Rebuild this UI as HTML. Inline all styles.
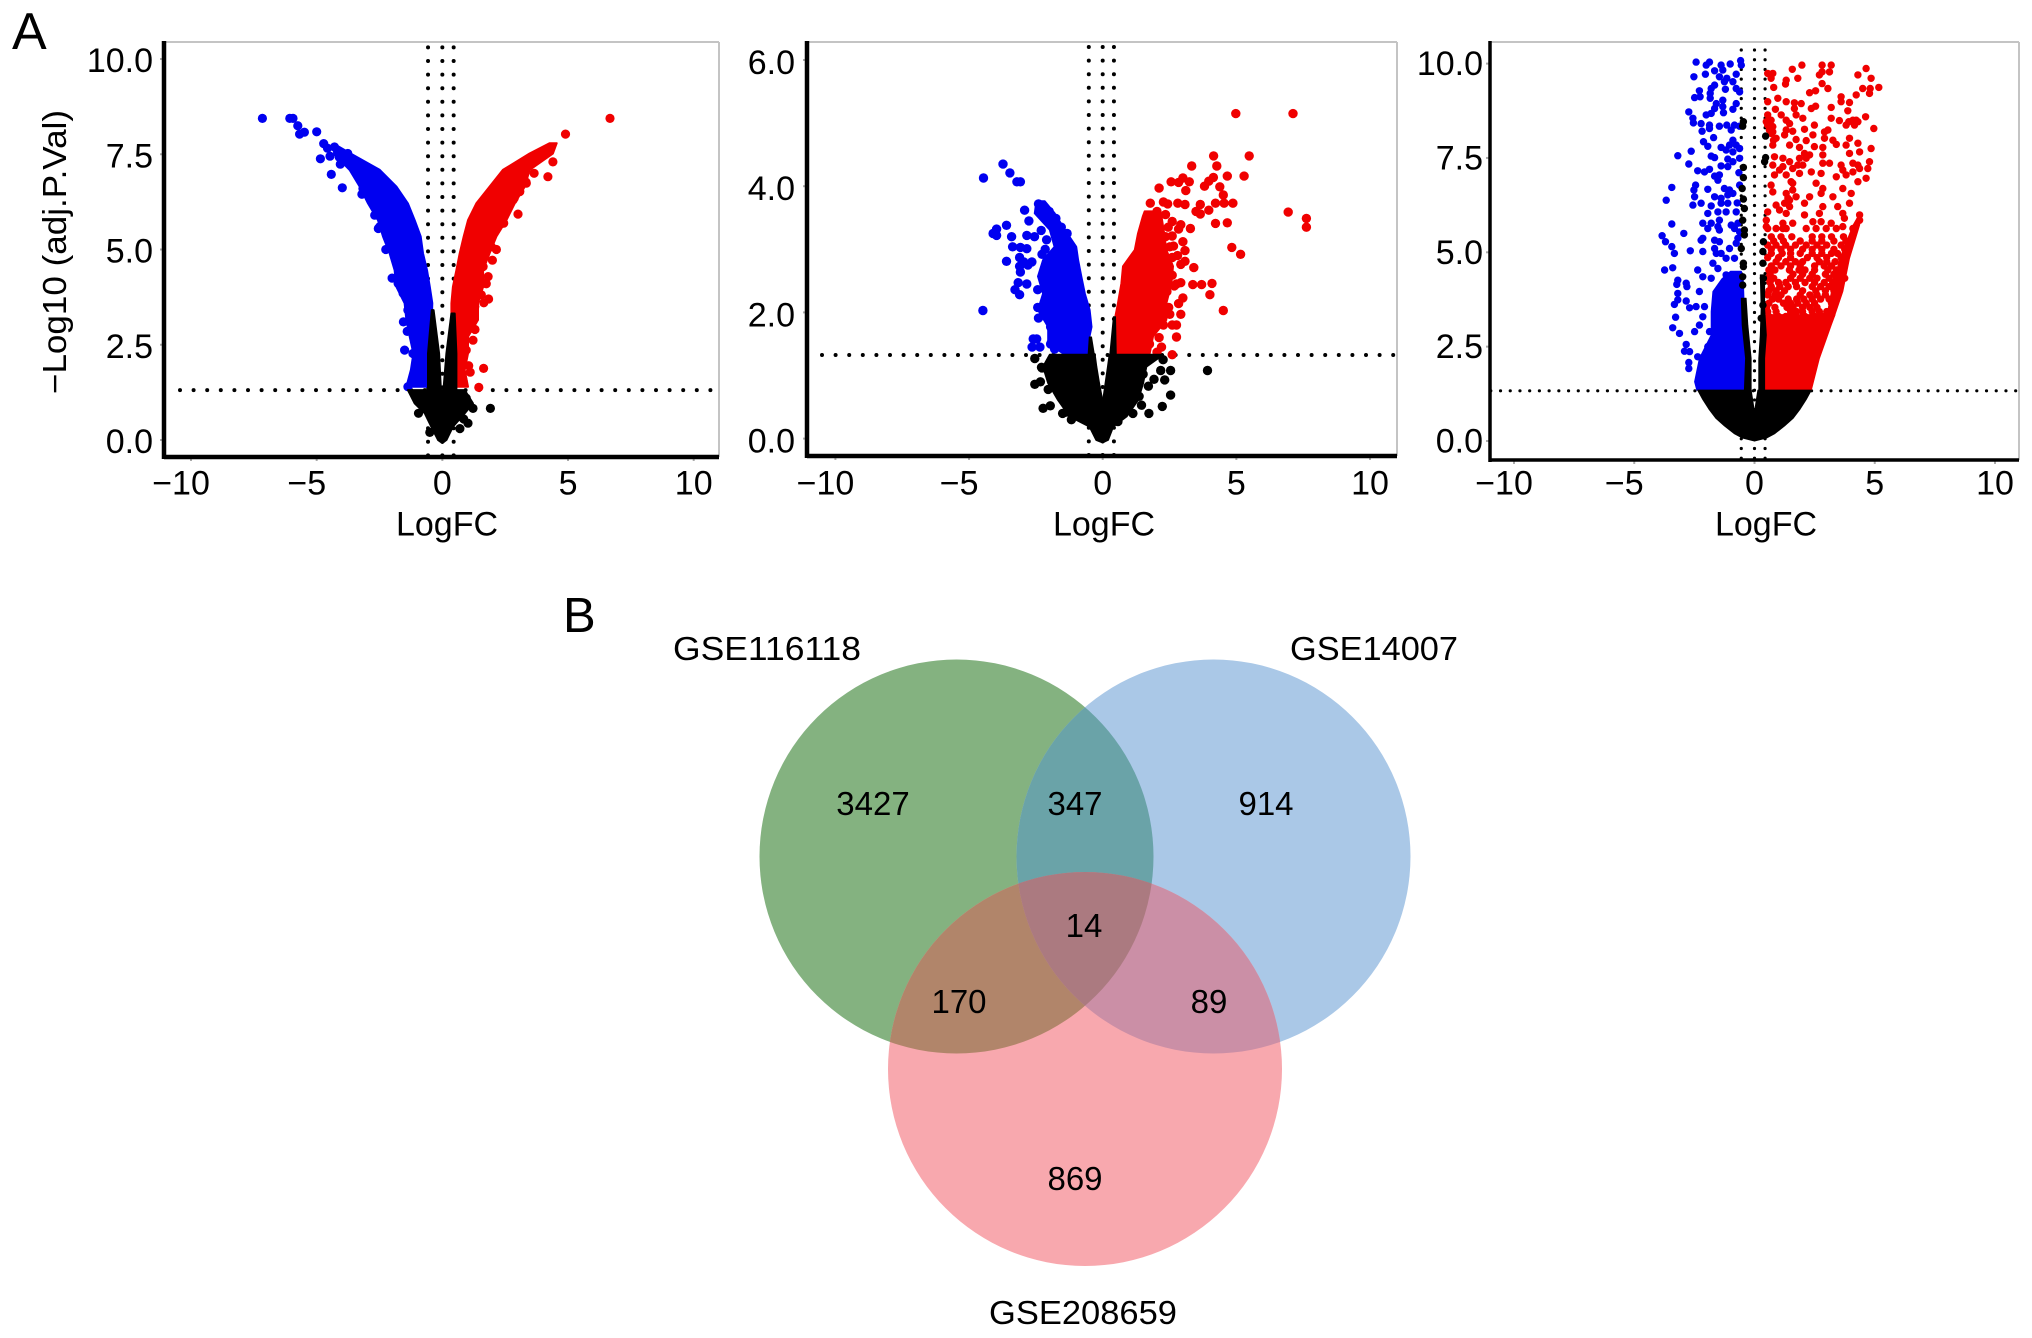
<!DOCTYPE html>
<html lang="en">
<head>
<meta charset="utf-8">
<title>Volcano plots and Venn diagram</title>
<style>
html,body{margin:0;padding:0;background:#fff;}
svg{display:block;font-family:"Liberation Sans",Arial,sans-serif;}
</style>
</head>
<body>
<svg id="fig" width="2032" height="1338" viewBox="0 0 2032 1338" xmlns="http://www.w3.org/2000/svg">
  <rect width="2032" height="1338" fill="#fff"/>
  <text x="12" y="49" font-size="52">A</text>
  <text x="563" y="632" font-size="49">B</text>
  <text transform="translate(66,252) rotate(-90)" text-anchor="middle" font-size="33" textLength="284" lengthAdjust="spacingAndGlyphs">−Log10 (adj.P.Val)</text>
  <g id="panels"></g>

  <defs>
    <clipPath id="clip-green"><circle cx="956.5" cy="856.5" r="197"/></clipPath>
    <clipPath id="clip-blue"><circle cx="1213.5" cy="856.5" r="197"/></clipPath>
    <clipPath id="clip-pink"><circle cx="1085" cy="1069" r="197"/></clipPath>
  </defs>
  <g>
    <circle cx="956.5" cy="856.5" r="197" fill="#84b280"/>
    <circle cx="1213.5" cy="856.5" r="197" fill="#aac8e7"/>
    <circle cx="1085" cy="1069" r="197" fill="#f8a8ae"/>
    <g clip-path="url(#clip-green)"><circle cx="1213.5" cy="856.5" r="197" fill="#6aa3a8"/></g>
    <g clip-path="url(#clip-green)"><circle cx="1085" cy="1069" r="197" fill="#b1856a"/></g>
    <g clip-path="url(#clip-blue)"><circle cx="1085" cy="1069" r="197" fill="#cb8fa6"/></g>
    <g clip-path="url(#clip-green)"><g clip-path="url(#clip-blue)"><circle cx="1085" cy="1069" r="197" fill="#ab7a80"/></g></g>
    <g font-size="33" text-anchor="middle" fill="#000">
      <text x="873" y="815">3427</text>
      <text x="1075" y="815">347</text>
      <text x="1266" y="815">914</text>
      <text x="1084" y="937">14</text>
      <text x="959" y="1013">170</text>
      <text x="1209" y="1013">89</text>
      <text x="1075" y="1190">869</text>
    </g>
    <g font-size="33">
      <text x="673" y="660" textLength="188" lengthAdjust="spacingAndGlyphs">GSE116118</text>
      <text x="1290" y="660" textLength="168" lengthAdjust="spacingAndGlyphs">GSE14007</text>
      <text x="989" y="1324" textLength="188" lengthAdjust="spacingAndGlyphs">GSE208659</text>
    </g>
  </g>
</svg>

<script>
/* ---------- shared tick labels ---------- */
const xTicks = [-10, -5, 0, 5, 10];
const yTicksWide = [0, 2.5, 5, 7.5, 10];
const yTicksNarrow = [0, 2, 4, 6];

/* ---------- panel 1 (GSE116118) ---------- */
const p1BlueY = [1.4, 1.84, 2.27, 2.71, 3.15, 3.59, 4.02, 4.46, 4.9, 5.34, 5.77, 6.21, 6.65, 7.09, 7.5, 7.75];
const p1BlueOuter = [-1.43, -1.25, -1.15, -1.3, -1.43, -1.5, -1.83, -1.9, -2.1, -2.36, -2.56, -2.96, -3.29, -3.69, -4.3, -4.35];
const p1BlueInner = [-0.45, -0.45, -0.42, -0.42, -0.42, -0.4, -0.5, -0.61, -0.77, -0.86, -1.1, -1.37, -1.83, -2.49, -3.6, -4.25];
const p1RedY = [1.4, 1.84, 2.27, 2.71, 3.15, 3.59, 4.02, 4.46, 4.9, 5.34, 5.77, 6.21, 6.65, 7.09, 7.52, 7.79];
const p1RedOuter = [1.02, 0.89, 1.02, 1.02, 1.42, 1.42, 1.62, 1.62, 1.88, 2.15, 2.55, 2.88, 3.28, 3.47, 4.4, 4.55];
const p1RedInner = [0.49, 0.42, 0.36, 0.36, 0.36, 0.36, 0.42, 0.56, 0.69, 0.85, 1.02, 1.35, 1.88, 2.41, 3.47, 4.27];
const p1BlobY = [-0.08, 0, 0.35, 0.7, 0.96, 1.31];
const p1BlobLeft = [0, -0.17, -0.44, -0.7, -1.1, -1.37];
const p1BlobRight = [0, 0.16, 0.42, 0.89, 1.22, 0.89];
const p1SpikeLeftY = [1.2, 2.27, 3.41];
const p1SpikeLeftA = [-0.57, -0.57, -0.42];
const p1SpikeLeftB = [-0.05, -0.13, -0.35];
const p1SpikeRightY = [1.2, 2.27, 3.32];
const p1SpikeRightA = [0.03, 0.16, 0.36];
const p1SpikeRightB = [0.56, 0.56, 0.49];
const p1BluePoints = [[-7.16,8.44],[-6.07,8.44],[-5.94,8.44],[-5.75,8.25],[-5.68,8.03],[-5.49,8.08],[-5,8.09],[-4.72,7.78],[-4.57,7.66],[-4.29,7.69],[-4.85,7.38],[-4.42,6.97],[-3.98,6.62],[-4.47,7.45],[-4.1,7.42],[-3.76,7.52],[-4.06,7.24],[-2.69,5.9],[-3.16,6.6],[-1.5,2.36],[-1.17,2.27],[-1.09,1.61],[-1.37,1.4],[-3.4,7.0],[-3.2,6.45],[-2.55,5.55],[-2.25,5.0],[-2.0,4.25],[-1.55,3.1],[-1.4,2.85],[-2.49,5.6],[-2.03,5.07],[-1.76,4.55],[-1.76,4.11],[-1.56,3.85],[-1.37,3.41],[-1.23,2.84],[-0.84,1.66],[-2.89,6.34],[-3.29,6.91],[-1.0,2.0],[-1.05,1.85]];
const p1RedPoints = [[6.67,8.44],[4.9,8.03],[4.2,6.91],[3.01,5.93],[1.99,4.72],[1.82,4.29],[1.84,3.7],[1.22,2.62],[1.64,1.88],[1.11,1.78],[1.45,1.38],[4.4,7.3],[2.44,5.69],[2.86,6.35],[3.33,6.77],[3.65,7.0],[2.15,5.0],[1.75,4.1],[1.65,3.6],[1.3,2.9],[1.05,1.95],[2.41,5.69],[2.81,6.3],[3.08,6.52],[3.34,6.74],[1.95,5.07],[1.62,4.55],[1.62,4.11],[1.55,3.81],[1.29,3.5],[1.02,3.06],[0.95,2.36],[0.82,1.57]];
const p1BlackPoints = [[1.91,0.83],[1.02,0.44],[1.22,0.83],[0.7,0.3],[0.85,0.55],[-0.5,0.2],[0.95,1.1],[-0.95,0.7]];

/* ---------- panel 2 (GSE14007) ---------- */
const p2BlueY = [1.35, 1.51, 1.77, 2.04, 2.3, 2.57, 2.83, 3.04, 3.31, 3.57, 3.76];
const p2BlueOuter = [-1.48, -2.04, -2.04, -2.42, -2.23, -2.42, -2.23, -1.8, -1.98, -2.54, -2.48];
const p2BlueInner = [-0.55, -0.55, -0.42, -0.49, -0.67, -0.8, -0.92, -0.99, -1.42, -1.8, -2.17];
const p2RedY = [1.35, 1.62, 1.88, 2.14, 2.46, 2.73, 2.99, 3.25, 3.52, 3.6];
const p2RedInner = [0.45, 0.39, 0.45, 0.57, 0.7, 0.76, 1.2, 1.32, 1.5, 1.57];
const p2RedOuter = [1.76, 1.88, 2.38, 2.38, 2.57, 2.63, 2.38, 2.3, 2.2, 2.1];
const p2BlobY = [-0.06, -0.02, 0.19, 0.35, 0.61, 0.88, 1.14, 1.33];
const p2BlobLeft = [0, -0.24, -0.49, -1.23, -1.67, -2.04, -2.23, -1.98];
const p2BlobRight = [0, 0.2, 0.39, 0.89, 1.32, 1.51, 1.63, 2.26];
const p2NotchLeft = [0, 0, 0, 0, -0.02, -0.14, -0.24, -0.3];
const p2NotchRight = [0, 0, 0, 0, 0.02, 0.11, 0.2, 0.26];
const p2SpikeLeftY = [1.3, 1.61];
const p2SpikeLeftA = [-0.55, -0.5];
const p2SpikeLeftB = [-0.3, -0.42];
const p2SpikeRightY = [1.3, 1.93];
const p2SpikeRightA = [0.26, 0.4];
const p2SpikeRightB = [0.51, 0.48];
const p2BluePoints = [[-3.73,4.35],[-3.47,4.21],[-4.46,4.13],[-3.21,4.07],[-3.08,4.07],[-4.48,2.03],[-3.6,3.38],[-3.97,3.32],[-4.1,3.25],[-3.97,3.22],[-3.41,3.2],[-3.37,3.04],[-3.08,3.03],[-2.84,3.01],[-3.6,2.81],[-3.11,2.87],[-3.11,2.73],[-3.08,2.64],[-3.16,2.47],[-3.28,2.36],[-3.11,2.28],[-2.84,2.45],[-2.43,2.36],[-2.92,3.62],[-2.76,3.45],[-2.84,3.22],[-2.6,1.58],[-2.47,1.58],[-2.64,1.45],[-2.35,1.45],[-2.4,3.72],[-2.19,3.67],[-1.75,3.49],[-1.33,3.25],[-2.27,2.92],[-2.43,2.08],[-2.4,1.91],[-1.95,1.77],[-2.95,2.8],[-2.8,2.75],[-2.65,2.8],[-2.55,3.2],[-2.0,3.6],[-1.9,3.4],[-1.55,3.35],[-1.15,3.0],[-1.1,2.9],[-1.95,1.5],[-1.8,1.42],[-2.3,3.3],[-2.1,3.15],[-2.15,3.0]];
const p2RedPoints = [[4.98,5.15],[7.12,5.15],[4.15,4.48],[5.48,4.48],[3.33,4.32],[4.27,4.32],[4.66,4.16],[5.29,4.16],[3,4.13],[2.56,4.07],[2.84,4.06],[3.24,4.07],[3.11,3.93],[4.14,4.14],[3.97,4.08],[3.81,4],[4.38,3.99],[2.11,3.97],[4.51,3.86],[4.22,3.73],[4.54,3.73],[4.87,3.73],[1.78,3.73],[2.27,3.75],[2.43,3.72],[2.81,3.73],[3.08,3.71],[3.65,3.71],[3.49,3.6],[3.65,3.56],[3.97,3.62],[6.94,3.59],[7.62,3.49],[7.62,3.35],[4.22,3.41],[4.66,3.42],[3.28,3.33],[2.92,3.39],[4.83,3.03],[5.16,2.92],[3.41,2.71],[3.08,2.98],[3,3.12],[3.08,2.81],[3.37,2.44],[3.7,2.44],[4.09,2.46],[4.01,2.28],[4.51,2.03],[3,2.23],[2.92,1.97],[2.76,1.61],[2.6,1.33],[2.84,2.14],[2.76,2.45],[2.51,1.97],[2.35,1.97],[2.27,1.8],[2.6,1.8],[2.76,1.8],[2.11,1.6],[2.03,1.37],[2.92,2.47],[2.68,2.42],[2.6,2.59],[2.92,2.76],[2.6,2.87],[2.51,3.04],[2.6,3.21],[2.84,3.32],[2.6,3.44],[2.35,3.55],[2.03,3.6],[2.27,2.08],[2.47,2.08],[2.4,2.33],[2.45,2.75],[2.35,3.2],[2.45,3.35],[1.75,1.5],[2.2,1.45],[2.05,3.4],[2.65,3.05],[2.8,2.9]];
const p2BlackPoints = [[-2.54,1.27],[-2.29,1.13],[-2.27,1.12],[-2.54,0.86],[-2.33,0.9],[-2.04,0.78],[-2.23,0.48],[-1.96,0.52],[-1.17,0.3],[3.92,1.08],[2.54,1.08],[2.17,1.08],[2.32,0.93],[1.92,0.94],[2.54,0.69],[2.23,0.51],[1.73,0.4],[1.45,0.53],[1.36,0.67],[1.71,0.83],[1.51,1.02],[2.26,1.25],[0.57,0.27],[1.13,0.4],[-1.5,0.4],[-1.35,0.42]];

/* ---------- panel 3 (GSE208659) ---------- */
const p3BlobY = [0, 0.08, 0.2, 0.4, 0.6, 0.85, 1.1, 1.35];
const p3BlobLeft = [0, -0.5, -0.85, -1.25, -1.6, -1.9, -2.15, -2.36];
const p3BlobRight = [0, 0.5, 0.85, 1.25, 1.6, 1.9, 2.15, 2.36];
const p3BlobNotchLeft = [0, 0, 0, 0, 0, -0.02, -0.08, -0.14];
const p3BlobNotchRight = [0, 0, 0, 0, 0, 0.02, 0.08, 0.14];
const p3BlueY = [1.35, 1.57, 2.19, 2.81, 3.43, 3.96, 4.3, 4.5];
const p3BlueOuter = [-2.4, -2.49, -2.29, -1.8, -1.8, -1.73, -1.35, -1.0];
const p3BlueInner = [-0.35, -0.35, -0.37, -0.42, -0.42, -0.45, -0.47, -0.55];
const p3RedY = [1.35, 2.19, 3.07, 3.35];
const p3RedInner = [0.42, 0.42, 0.42, 0.5];
const p3RedOuter = [2.36, 2.7, 3.19, 3.35];
const p3RedEdgeY = [3.3, 3.96, 4.84, 5.72, 6.0];
const p3RedEdgeOuter = [3.32, 3.67, 3.95, 4.37, 4.44];
const p3RedEdgeInner = [3.0, 3.2, 3.55, 4.1, 4.35];
const p3BlackLeftY = [1.35, 2.19, 3.07, 3.78];
const p3BlackLeftA = [-0.42, -0.37, -0.51, -0.55];
const p3BlackLeftB = [-0.14, -0.14, -0.28, -0.35];
const p3BlackRightY = [1.35, 2.19, 2.81, 3.51, 4.4];
const p3BlackRightA = [0.18, 0.18, 0.24, 0.28, 0.24];
const p3BlackRightB = [0.42, 0.42, 0.49, 0.42, 0.42];
const p3BluePoints = [[-2.43,10.04],[-1.87,10.04],[-2.01,9.96],[-1.39,9.96],[-1.01,9.99],[-0.58,10.08],[-0.55,9.96],[-2.52,9.65],[-2.04,9.72],[-1.66,9.81],[-1.32,9.83],[-1.46,9.65],[-0.76,9.72],[-1.15,9.61],[-1.25,9.52],[-0.9,9.52],[-1.66,9.43],[-2.29,9.28],[-1.8,9.34],[-1.84,9.21],[-1.21,9.32],[-0.76,9.34],[-0.62,9.25],[-2.49,9.1],[-2.26,9.12],[-1.84,9.08],[-1.32,9.03],[-1.59,8.94],[-0.76,8.94],[-1.32,8.86],[-1.66,8.81],[-0.9,8.79],[-2.73,8.72],[-2.01,8.64],[-1.8,8.68],[-1.29,8.7],[-2.56,8.55],[-2.54,8.43],[-2.22,8.41],[-1.87,8.37],[-1.87,8.28],[-1.46,8.34],[-1.15,8.37],[-0.83,8.37],[-0.97,8.24],[-0.62,8.34],[-2.18,8.21],[-2.12,7.93],[-1.7,8.04],[-1.94,7.81],[-0.9,7.97],[-1.04,7.84],[-0.76,7.84],[-1.39,7.78],[-1.18,7.71],[-0.9,7.66],[-0.62,7.75],[-2.63,7.68],[-3.19,7.56],[-1.8,7.55],[-1.66,7.51],[-1.11,7.47],[-0.62,7.49],[-2.73,7.34],[-1.39,7.29],[-0.9,7.4],[-1.87,7.2],[-2.36,7.16],[-2.08,7.13],[-1.66,7.02],[-1.46,7.05],[-0.65,7.11],[-1.11,7.27],[-1.52,6.91],[-3.44,6.72],[-2.45,6.78],[-2.52,6.65],[-1.94,6.67],[-1.25,6.69],[-1.04,6.65],[-0.62,6.78],[-2.49,6.47],[-3.67,6.38],[-1.66,6.47],[-1.39,6.43],[-1.11,6.52],[-0.9,6.56],[-2.56,6.25],[-2.22,6.3],[-1.8,6.23],[-1.39,6.3],[-1.11,6.3],[-0.72,6.31],[-1.94,6.03],[-1.52,6.07],[-1.18,6.07],[-0.76,6.07],[-3.44,5.75],[-2.15,5.77],[-1.8,5.77],[-1.46,5.85],[-0.97,5.72],[-0.69,5.77],[-1.94,5.63],[-1.52,5.68],[-2.94,5.5],[-3.84,5.44],[-3.7,5.28],[-3.44,5.15],[-3.33,4.97],[-2.67,5.04],[-3.74,4.53],[-3.4,4.59],[-3.19,4.26],[-3.23,4.15],[-2.84,4.18],[-2.81,4.09],[-3.19,3.91],[-3.19,3.74],[-3.33,3.62],[-2.84,3.71],[-2.7,3.53],[-2.43,3.56],[-3.28,3.28],[-3.4,3.0],[-3.12,2.85],[-2.84,2.56],[-2.91,2.38],[-2.7,2.37],[-2.73,2.08],[-2.73,1.92],[-2.36,4.53],[-2.15,4.35],[-2.29,3.96],[-2.15,5.37],[-2.22,5.32],[-1.46,5.59],[-1.46,5.28],[-1.04,5.1],[-0.83,5.63],[-0.69,5.37],[-2.15,5.02],[-1.59,4.97],[-1.18,4.84],[-0.83,4.84],[-1.73,4.71],[-1.52,4.57],[-1.18,4.4],[-1.8,4.31],[-2.08,3.56],[-2.15,3.29],[-2.29,3.07],[-2.49,2.9],[-1.87,2.9],[-1.94,2.5],[-2.36,2.23],[-2.15,2.1],[-1.66,5.32],[-1.66,5.1],[-1.39,4.97],[-0.76,5.24],[-0.62,5.54]];
const p3RedPoints = [[1.97,9.96],[2.81,9.96],[3.19,9.96],[2.81,9.78],[3.12,9.78],[2.7,9.7],[4.64,9.87],[4.3,9.7],[4.85,9.61],[1.57,9.85],[1.8,9.61],[1.32,9.56],[0.55,9.74],[0.76,9.74],[0.69,9.61],[0.8,9.37],[1.29,9.46],[2.81,9.47],[3.05,9.34],[2.29,9.23],[2.54,9.28],[3.6,9.12],[4.5,9.34],[4.81,9.34],[5.17,9.37],[4.78,9.21],[4.23,9.17],[0.55,8.99],[0.97,9.08],[1.32,8.99],[1.66,8.96],[1.94,8.94],[3.6,8.99],[3.95,8.97],[2.36,8.81],[2.54,8.87],[3.19,8.84],[0.87,8.79],[1.66,8.81],[3.88,8.75],[1.11,8.64],[0.55,8.64],[0.49,8.46],[1.32,8.5],[2.01,8.55],[1.73,8.64],[3.19,8.55],[3.53,8.49],[4.62,8.59],[3.92,8.46],[4.23,8.5],[4.16,8.37],[0.55,8.37],[0.76,8.33],[1.46,8.41],[2.49,8.37],[3.81,8.37],[4.96,8.28],[0.69,8.15],[1.32,8.24],[1.59,8.21],[2.08,8.26],[2.91,8.19],[2.43,8.11],[3.05,8.24],[0.79,7.97],[1.25,8.11],[1.73,7.99],[2.15,7.96],[2.91,8.02],[3.26,7.97],[3.95,8.02],[4.3,7.89],[0.76,7.84],[1.46,7.84],[1.87,7.78],[2.49,7.8],[2.84,7.78],[3.4,7.86],[3.81,7.84],[4.85,7.75],[2.84,7.58],[4.37,7.66],[0.83,7.53],[1.18,7.49],[1.46,7.4],[2.29,7.58],[2.15,7.49],[1.87,7.49],[3.95,7.62],[4.78,7.4],[3.6,7.31],[4.09,7.36],[4.3,7.31],[2.84,7.36],[3.12,7.36],[4.71,7.22],[0.76,7.31],[1.18,7.27],[1.59,7.22],[2.01,7.31],[2.36,7.13],[2.77,7.09],[3.67,7.18],[3.81,7.05],[4.09,7.13],[4.37,7.22],[3.4,7.0],[4.64,6.96],[0.83,7.05],[1.32,7.05],[1.87,7.09],[4.3,6.87],[0.69,6.78],[1.52,6.87],[1.59,6.65],[2.56,6.83],[2.84,6.69],[3.67,6.69],[4.02,6.56],[0.76,6.6],[1.32,6.56],[2.29,6.47],[2.77,6.56],[3.26,6.47],[0.9,6.25],[1.46,6.38],[2.08,6.3],[2.84,6.21],[3.46,6.21],[3.95,6.3],[0.55,6.07],[1.04,6.12],[1.46,6.21],[2.7,6.03],[3.67,6.03],[4.37,5.99],[0.49,5.85],[1.18,5.77],[2.08,5.99],[2.43,5.81],[2.77,5.81],[3.19,5.77],[3.74,5.9],[4.37,5.85],[0.49,5.68],[1.59,5.77],[3.67,5.68],[4.09,5.63],[2.15,5.63],[1.18,5.63],[1.59,6.83],[1.39,6.43],[1.73,6.47],[1.25,6.3],[1.32,6.03],[0.76,8.19],[0.69,8.5],[0.9,8.02],[0.62,8.24],[4.09,8.5],[4.3,8.46],[1.04,7.18],[1.8,7.31],[2.08,7.62]];
/* rows for the crowded middle of the red cloud: first value is -log10 p, the rest are logFC values */
const p3RedDenseRows = [
[5.63,0.55,0.9,1.32,2.56,2.98,3.4],[5.41,0.7,1.1,1.55,2.4,2.8,3.2,3.7],[5.3,0.8,1.2,1.9,2.4,2.8,3.3,3.8],
[5.19,0.55,0.9,1.3,1.7,2.15,2.6,3.0,3.6,3.95],[5.08,0.7,1.1,1.5,2.0,2.4,2.8,3.3,3.75],[4.97,0.7,1.15,1.5,1.9,2.4,2.8,3.2,3.45,3.8],
[4.86,0.55,1.0,1.5,2.2,2.6,3.0,3.6],[4.75,0.9,1.3,1.7,2.0,2.7,3.0,3.35,3.75],[4.64,0.7,1.1,1.5,1.9,2.5,2.9,3.2,3.6],
[4.53,0.6,0.85,1.45,1.85,2.1,2.5,3.05,3.4,3.7],[4.42,0.65,1.6,2.0,2.4,2.95,3.3,3.6],[4.31,0.55,0.8,1.5,1.9,2.3,2.6,3.1,3.4,3.75],
[4.2,0.65,1.0,1.3,1.7,2.1,2.5,2.9,3.25,3.6],[4.09,0.7,1.05,1.4,1.75,2.4,2.75,3.1,3.45],[3.98,0.6,0.9,1.25,2.0,2.55,2.95,3.3],
[3.87,0.55,0.85,1.1,1.9,2.3,2.6,2.95],[3.76,0.75,1.0,1.4,1.75,2.05,2.4,2.75,3.1],[3.65,0.6,1.2,1.5,1.8,2.15,2.5,3.2],
[3.54,0.5,0.85,1.35,1.6,2.0,2.3,2.6],[3.43,0.55,0.9,1.5,1.75,2.0,2.4,2.7,3.0],[3.3,0.6,1.0,1.3,1.7,2.1,2.5,2.85]];
const p3BlackPoints = [[-0.46,8.46],[-0.49,8.34],[0.46,8.08],[0.46,7.51],[0.42,7.4],[-0.46,7.25],[-0.46,6.98],[-0.51,6.69],[-0.46,6.41],[-0.42,6.16],[-0.49,5.85],[-0.42,5.59],[-0.42,5.46],[-0.55,5.1],[-0.46,4.71],[-0.46,4.62],[-0.49,4.35],[-0.49,4.13],[0.37,5.28],[0.35,5.02],[0.35,4.71],[0.37,4.31],[0.35,3.6],[0.28,3.25]];

/* ---------- layout of each panel, in figure pixels ---------- */
const panelLayouts = [
  {id:'gse116118', left:164, right:719, top:42, bottom:457, x0:[-10,191], x1:[10,693.7], y0:[0,440], y1:[10,59], yTicks:yTicksWide, r:4.6, dot:4, gap:13.6, axisW:4.5, labelRight:153, labelDy:13, titleX:447, xLabelY:494.5, titleY:535.5, digits:18.9, vlo:-0.57, vhi:0.45, hline:1.31, hStart:180, vStart:47.4},
  {id:'gse14007',  left:807, right:1397, top:42, bottom:456, x0:[-10,835.4], x1:[10,1370], y0:[0,438.6], y1:[6,60], yTicks:yTicksNarrow, r:4.7, dot:4, gap:13.6, axisW:4.5, labelRight:795, labelDy:14, titleX:1104, xLabelY:494.5, titleY:535.5, digits:18.9, vlo:-0.52, vhi:0.42, hline:1.325, hStart:822, vStart:47},
  {id:'gse208659', left:1490, right:2019, top:42, bottom:460, x0:[-10,1514], x1:[10,1995], y0:[0,441], y1:[10,63.6], yTicks:yTicksWide, r:3.7, dot:3.2, gap:9.72, axisW:3.5, labelRight:1483, labelDy:11.5, titleX:1766, xLabelY:494.5, titleY:535.5, digits:18.9, vlo:-0.55, vhi:0.44, hline:1.33, hStart:1490.8, vStart:50}
];

const NS = 'http://www.w3.org/2000/svg';
const BLUE = '#0000f0', RED = '#f00000', BLACK = '#000';

function scale(a, b) {
  const k = (b[1] - a[1]) / (b[0] - a[0]);
  return v => a[1] + (v - a[0]) * k;
}
function make(tag, parent, attrs, name) {
  const el = document.createElementNS(NS, tag);
  for (const k in attrs) el.setAttribute(k, attrs[k]);
  
  
  parent.appendChild(el);
  return el;
}
function bandPath(g, sx, sy, ys, a, b, color, sw, name) {
  const pts = [];
  ys.forEach((y, i) => pts.push(sx(a[i]).toFixed(1) + ',' + sy(y).toFixed(1)));
  for (let i = ys.length - 1; i >= 0; i--) pts.push(sx(b[i]).toFixed(1) + ',' + sy(ys[i]).toFixed(1));
  make('polygon', g, {points: pts.join(' '), fill: color, stroke: color, 'stroke-width': sw, 'stroke-linejoin': 'round'}, name);
}
function dots(g, sx, sy, pairs, color, r, name) {
  pairs.forEach(p => make('circle', g, {cx: sx(p[0]).toFixed(1), cy: sy(p[1]).toFixed(1), r: r, fill: color}, name));
}
function rowDots(g, sx, sy, rows, color, r, name) {
  rows.forEach(row => row.slice(1).forEach(x => make('circle', g, {cx: sx(x).toFixed(1), cy: sy(row[0]).toFixed(1), r: r, fill: color}, name)));
}
function drawFrame(L, g, sx, sy) {
  make('line', g, {x1: L.left, y1: L.top, x2: L.right, y2: L.top, stroke: '#c4c4c4', 'stroke-width': 2}, 'panel-top-border');
  make('line', g, {x1: L.right, y1: L.top, x2: L.right, y2: L.bottom, stroke: '#c4c4c4', 'stroke-width': 2}, 'panel-right-border');
  xTicks.forEach(t => {
    const px = sx(t);
    make('line', g, {x1: px, y1: L.bottom, x2: px, y2: L.bottom + 4, stroke: '#aaa', 'stroke-width': 2}, 'x-tick');
    const label = make('text', g, {y: L.xLabelY, 'font-size': 34, 'text-anchor': t < 0 ? 'end' : 'middle', x: t < 0 ? px + String(Math.abs(t)).length * L.digits / 2 : px}, 'x-tick-label');
    label.textContent = (t < 0 ? '\u2212' : '') + Math.abs(t);
  });
  L.yTicks.forEach(t => {
    const py = sy(t);
    make('line', g, {x1: L.left - 4, y1: py, x2: L.left, y2: py, stroke: '#aaa', 'stroke-width': 2}, 'y-tick');
    const label = make('text', g, {x: L.labelRight, y: py + L.labelDy, 'font-size': 34, 'text-anchor': 'end'}, 'y-tick-label');
    label.textContent = t.toFixed(1);
  });
  const title = make('text', g, {x: L.titleX, y: L.titleY, 'font-size': 34, 'text-anchor': 'middle'}, 'x-axis-title');
  title.textContent = 'LogFC';
}
function drawRefs(L, g, sx, sy) {
  const dash = '0 ' + L.gap;
  [L.vlo, 0, L.vhi].forEach(v => make('line', g, {x1: sx(v), x2: sx(v), y1: L.vStart, y2: L.bottom, stroke: '#000', 'stroke-width': L.dot, 'stroke-dasharray': dash, 'stroke-linecap': 'round'}, 'logfc-threshold-line'));
  make('line', g, {x1: L.hStart, x2: L.right - 3, y1: sy(L.hline), y2: sy(L.hline), stroke: '#000', 'stroke-width': L.dot, 'stroke-dasharray': dash, 'stroke-linecap': 'round'}, 'pvalue-threshold-line');
}
function drawAxes(L, g) {
  make('line', g, {x1: L.left, y1: L.top - 1, x2: L.left, y2: L.bottom + 2, stroke: '#000', 'stroke-width': L.axisW}, 'y-axis-line');
  make('line', g, {x1: L.left, y1: L.bottom, x2: L.right, y2: L.bottom, stroke: '#000', 'stroke-width': L.axisW}, 'x-axis-line');
}

const root = document.getElementById('panels');
const painters = [
  function (L, g, sx, sy) {
    bandPath(g, sx, sy, p1BlueY, p1BlueOuter, p1BlueInner, BLUE, 2, 'down-regulated-cloud');
    bandPath(g, sx, sy, p1RedY, p1RedOuter, p1RedInner, RED, 2, 'up-regulated-cloud');
    dots(g, sx, sy, p1BluePoints, BLUE, L.r, 'down-regulated-gene');
    dots(g, sx, sy, p1RedPoints, RED, L.r, 'up-regulated-gene');
    bandPath(g, sx, sy, p1SpikeLeftY, p1SpikeLeftA, p1SpikeLeftB, BLACK, 2, 'nonsignificant-spike');
    bandPath(g, sx, sy, p1SpikeRightY, p1SpikeRightA, p1SpikeRightB, BLACK, 2, 'nonsignificant-spike');
    bandPath(g, sx, sy, p1BlobY, p1BlobLeft, p1BlobRight, BLACK, 2, 'nonsignificant-cloud');
    dots(g, sx, sy, p1BlackPoints, BLACK, L.r, 'nonsignificant-gene');
  },
  function (L, g, sx, sy) {
    bandPath(g, sx, sy, p2BlueY, p2BlueOuter, p2BlueInner, BLUE, 2, 'down-regulated-cloud');
    bandPath(g, sx, sy, p2RedY, p2RedInner, p2RedOuter, RED, 2, 'up-regulated-cloud');
    dots(g, sx, sy, p2BluePoints, BLUE, L.r, 'down-regulated-gene');
    dots(g, sx, sy, p2RedPoints, RED, L.r, 'up-regulated-gene');
    bandPath(g, sx, sy, p2BlobY, p2BlobLeft, p2NotchLeft, BLACK, 2, 'nonsignificant-cloud-left');
    bandPath(g, sx, sy, p2BlobY, p2NotchRight, p2BlobRight, BLACK, 2, 'nonsignificant-cloud-right');
    bandPath(g, sx, sy, p2SpikeLeftY, p2SpikeLeftA, p2SpikeLeftB, BLACK, 1, 'nonsignificant-spike');
    bandPath(g, sx, sy, p2SpikeRightY, p2SpikeRightA, p2SpikeRightB, BLACK, 1, 'nonsignificant-spike');
    dots(g, sx, sy, p2BlackPoints, BLACK, L.r, 'nonsignificant-gene');
  },
  function (L, g, sx, sy) {
    bandPath(g, sx, sy, p3BlueY, p3BlueOuter, p3BlueInner, BLUE, 1, 'down-regulated-cloud');
    bandPath(g, sx, sy, p3RedY, p3RedInner, p3RedOuter, RED, 1, 'up-regulated-cloud');
    bandPath(g, sx, sy, p3RedEdgeY, p3RedEdgeInner, p3RedEdgeOuter, RED, 1, 'up-regulated-edge');
    dots(g, sx, sy, p3BluePoints, BLUE, L.r, 'down-regulated-gene');
    dots(g, sx, sy, p3RedPoints, RED, L.r, 'up-regulated-gene');
    rowDots(g, sx, sy, p3RedDenseRows, RED, L.r, 'up-regulated-gene');
    bandPath(g, sx, sy, p3BlobY, p3BlobLeft, p3BlobNotchLeft, BLACK, 1, 'nonsignificant-cloud-left');
    bandPath(g, sx, sy, p3BlobY, p3BlobNotchRight, p3BlobRight, BLACK, 1, 'nonsignificant-cloud-right');
    bandPath(g, sx, sy, p3BlackLeftY, p3BlackLeftA, p3BlackLeftB, BLACK, 1, 'nonsignificant-spike');
    bandPath(g, sx, sy, p3BlackRightY, p3BlackRightA, p3BlackRightB, BLACK, 1, 'nonsignificant-spike');
    dots(g, sx, sy, p3BlackPoints, BLACK, L.r, 'nonsignificant-gene');
  }
];
panelLayouts.forEach((L, i) => {
  const sx = scale(L.x0, L.x1), sy = scale(L.y0, L.y1);
  const g = make('g', root, {}, 'volcano-plot-' + L.id);
  drawFrame(L, g, sx, sy);
  drawRefs(L, g, sx, sy);
  painters[i](L, g, sx, sy);
  drawAxes(L, g);
});
</script>
</body>
</html>
